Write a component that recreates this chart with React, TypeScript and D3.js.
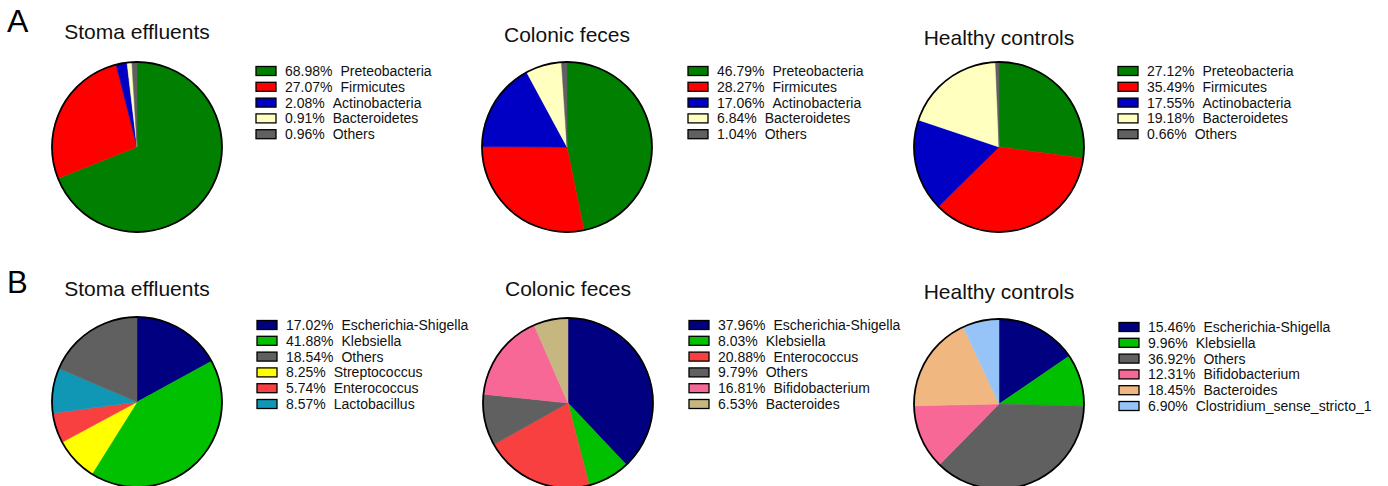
import React from "react";
import * as d3 from "d3";

// Phylum level (panel A)
const phylumNames = ["Preteobacteria", "Firmicutes", "Actinobacteria", "Bacteroidetes", "Others"];
const phylumColors = ["#007f00", "#ff0000", "#0000c4", "#ffffbf", "#606060"];
const phylumStoma = [68.98, 27.07, 2.08, 0.91, 0.96];
const phylumColonic = [46.79, 28.27, 17.06, 6.84, 1.04];
const phylumHealthy = [27.12, 35.49, 17.55, 19.18, 0.66];

// Genus level (panel B)
const genusStomaNames = ["Escherichia-Shigella", "Klebsiella", "Others", "Streptococcus", "Enterococcus", "Lactobacillus"];
const genusStomaValues = [17.02, 41.88, 18.54, 8.25, 5.74, 8.57];
const genusStomaColors = ["#000080", "#00c000", "#606060", "#ffff00", "#f84040", "#1097b6"];
const genusStomaSliceOrder = [0, 1, 3, 4, 5, 2];

const genusColonicNames = ["Escherichia-Shigella", "Klebsiella", "Enterococcus", "Others", "Bifidobacterium", "Bacteroides"];
const genusColonicValues = [37.96, 8.03, 20.88, 9.79, 16.81, 6.53];
const genusColonicColors = ["#000080", "#00c000", "#f84040", "#606060", "#f86896", "#c6b680"];

const genusHealthyNames = ["Escherichia-Shigella", "Klebsiella", "Others", "Bifidobacterium", "Bacteroides", "Clostridium_sense_stricto_1"];
const genusHealthyValues = [15.46, 9.96, 36.92, 12.31, 18.45, 6.9];
const genusHealthyColors = ["#000080", "#00c000", "#606060", "#f86896", "#f0b880", "#96c4f8"];

const groupTitles = ["Stoma effluents", "Colonic feces", "Healthy controls"];

const FONT = "Arial, 'Liberation Sans', Helvetica, sans-serif";

type Panel = {
  title: string;
  names: string[];
  values: number[];
  colors: string[];
  order?: number[];
  cx: number;
  cy: number;
  titleY: number;
  legendX: number;
  legendY: number;
};

const R = 85;

const panels: Panel[] = [
  { title: groupTitles[0], names: phylumNames, values: phylumStoma, colors: phylumColors, cx: 137, cy: 147, titleY: 39, legendX: 256, legendY: 71 },
  { title: groupTitles[1], names: phylumNames, values: phylumColonic, colors: phylumColors, cx: 567, cy: 147, titleY: 42, legendX: 688, legendY: 71 },
  { title: groupTitles[2], names: phylumNames, values: phylumHealthy, colors: phylumColors, cx: 999, cy: 147, titleY: 45, legendX: 1118, legendY: 71 },
  { title: groupTitles[0], names: genusStomaNames, values: genusStomaValues, colors: genusStomaColors, order: genusStomaSliceOrder, cx: 137, cy: 402, titleY: 296, legendX: 257, legendY: 325 },
  { title: groupTitles[1], names: genusColonicNames, values: genusColonicValues, colors: genusColonicColors, cx: 568, cy: 403, titleY: 296, legendX: 689, legendY: 325 },
  { title: groupTitles[2], names: genusHealthyNames, values: genusHealthyValues, colors: genusHealthyColors, cx: 999, cy: 404, titleY: 299, legendX: 1119, legendY: 327 },
];

const arc = d3.arc<d3.PieArcDatum<number>>().innerRadius(0).outerRadius(R);

function PiePanel({ p }: { p: Panel }) {
  const order = p.order ?? p.values.map((_, i) => i);
  const pie = d3.pie<number>().sort(null).value((i) => p.values[i]);
  const slices = pie(order);
  const rowStep = 15.8;
  return (
    <g>
      <text x={p.cx} y={p.titleY} textAnchor="middle" fontSize={21} fontFamily={FONT} fill="#111">
        {p.title}
      </text>
      <g transform={`translate(${p.cx},${p.cy})`}>
        {slices.map((s) => (
          <path key={s.data} d={arc(s) as string} fill={p.colors[s.data]} stroke={p.colors[s.data]} strokeWidth={0.5} />
        ))}
        <circle r={R} fill="none" stroke="#000" strokeWidth={1.8} />
      </g>
      <g fontFamily={FONT} fontSize={14} fill="#111">
        {p.names.map((name, i) => {
          const y = p.legendY + i * rowStep;
          return (
            <g key={name}>
              <rect x={p.legendX} y={y - 4.5} width={20} height={9} fill={p.colors[i]} stroke="#000" strokeWidth={1.3} />
              <text x={p.legendX + 29} y={y + 5}>
                {p.values[i].toFixed(2) + "%"}
                <tspan dx={8}>{name}</tspan>
              </text>
            </g>
          );
        })}
      </g>
    </g>
  );
}

export default function App() {
  return (
    <div style={{ position: "fixed", left: 0, top: 0 }}>
      <svg width={1388} height={486} style={{ display: "block", background: "#fff" }}>
        <text x={7} y={32} fontSize={32} fontFamily={FONT} fill="#000">A</text>
        <text x={7} y={293} fontSize={31} fontFamily={FONT} fill="#000">B</text>
        {panels.map((p, i) => (
          <PiePanel key={i} p={p} />
        ))}
      </svg>
    </div>
  );
}
